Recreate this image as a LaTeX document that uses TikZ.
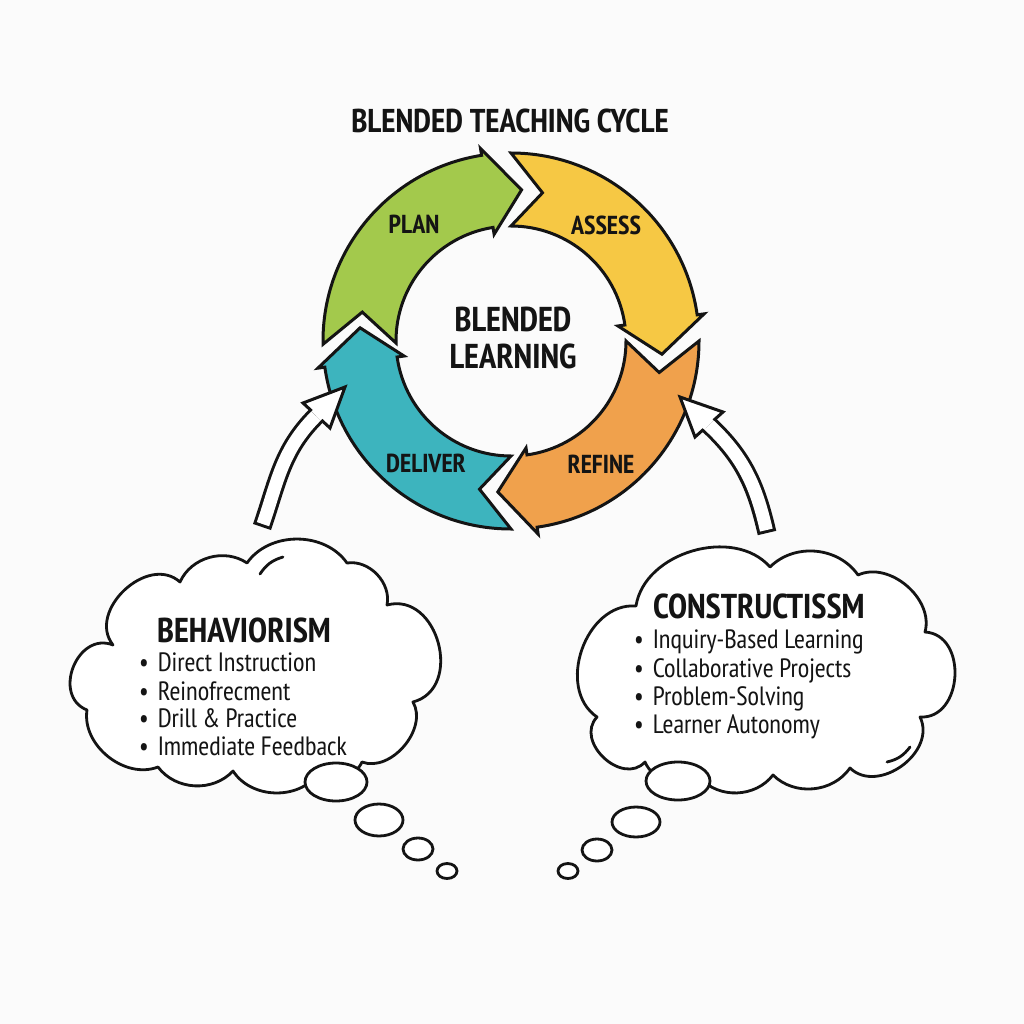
\documentclass[tikz,border=0pt]{standalone}
\usepackage{fontspec}
\IfFontExistsTF{PT Sans Narrow}{\newfontfamily\condfont{PT Sans Narrow}}{\newfontfamily\condfont{DejaVu Sans Condensed}}
\usetikzlibrary{calc}
\definecolor{cgreen}{HTML}{A3C94C}
\definecolor{cyellow}{HTML}{F6C844}
\definecolor{corange}{HTML}{F0A14C}
\definecolor{cteal}{HTML}{3DB4BE}
\definecolor{ink}{HTML}{141414}
\definecolor{bgcol}{HTML}{FBFBFB}
\newcommand\ringseg[3]{%
  \pgfmathsetmacro\hA{#3}%
  \pgfmathsetmacro\hT{#3-13}%
  \pgfmathsetmacro\nT{#2-12}%
  \filldraw[fill=#1,segline] (#2:188) arc[start angle=#2,end angle=#3,radius=188]
    -- (\hA:195) -- (\hT:151.5) -- (\hA:108) -- (\hA:115)
    arc[start angle=#3,end angle=#2,radius=115] -- (\nT:151.5) -- cycle;}
\newcommand\bul{\textbullet\hspace{9pt}}
\begin{document}
\begin{tikzpicture}[x=1pt,y=1pt,
  segline/.style={draw=ink,line width=3pt,line join=miter,miter limit=10},
  seglabel/.style={font=\condfont\bfseries\fontsize{26}{30}\selectfont,text=ink,inner sep=0pt},
  titletext/.style={font=\condfont\bfseries\fontsize{33}{38}\selectfont,text=ink,inner sep=0pt},
  centertext/.style={font=\condfont\bfseries\fontsize{34.5}{37}\selectfont,text=ink,align=center,inner sep=0pt},
  cloudtitle/.style={font=\condfont\bfseries\fontsize{34.5}{40}\selectfont,text=ink,inner sep=0pt,anchor=base west},
  listtext/.style={font=\condfont\fontsize{26.5}{30}\selectfont,text=ink,inner sep=0pt,anchor=base west},
  cloudline/.style={draw=ink,fill=white,line width=2.8pt,line join=round},
  hollow/.style={draw=ink,line width=19pt},
  hollowin/.style={draw=white,line width=13pt},
  headtri/.style={draw=ink,fill=white,line width=3pt,line join=miter}]
\useasboundingbox (0,0) rectangle (1024,-1024);
\fill[bgcol] (0,0) rectangle (1024,-1024);

% title
\node[titletext] (title) at (510,-121) {BLENDED TEACHING CYCLE};

% ring
\begin{scope}[shift={(511,-341)}]
  \ringseg{cgreen}{181}{99}
  \ringseg{cyellow}{90}{8}
  \ringseg{corange}{0}{-82}
  \ringseg{cteal}{-90}{-172}
\end{scope}
\node[seglabel] (plan) at (414,-224) {PLAN};
\node[seglabel] (assess) at (606,-225) {ASSESS};
\node[seglabel] (refine) at (601,-464) {REFINE};
\node[seglabel] (deliver) at (426,-463) {DELIVER};
\node[centertext] (center) at (513,-338) {BLENDED\\LEARNING};

% hollow arrows
\coordinate (la0) at (262,-527);
\coordinate (la1) at (316,-416);
\draw[hollow] (la0) to[out=71,in=225] (la1);
\filldraw[headtri] (303,-403) -- (345,-387) -- (330,-428) -- cycle;
\draw[hollowin,shorten <=3pt] (la0) to[out=71,in=225] (la1);
\draw[hollowin] (la1) -- ++(45:8);

\coordinate (ra0) at (767,-533);
\coordinate (ra1) at (709,-425);
\draw[hollow] (ra0) to[out=103,in=-43] (ra1);
\filldraw[headtri] (723,-412) -- (680,-397) -- (695,-437) -- cycle;
\draw[hollowin,shorten <=3pt] (ra0) to[out=103,in=-43] (ra1);
\draw[hollowin] (ra1) -- ++(137:8);

% left cloud
\filldraw[cloudline] (180,-582) to[bend left=50] (247,-563) to[bend left=55] (347,-563)
  to[bend left=55] (387,-605) to[bend left=90,looseness=1.35] (413,-702)
  to[bend left=70] (362,-762) to[bend left=50] (318,-774) to[bend left=55] (233,-771)
  to[bend left=50] (158,-767) to[bend left=60] (87,-710)
  to[bend left=90,looseness=1.4] (113,-645) to[bend left=85,looseness=1.2] (180,-582) -- cycle;
\draw[ink,line width=2.8pt,line cap=round] (260,-574) to[bend left=20] (283,-557);
\draw[cloudline] (336,-782) ellipse[x radius=31,y radius=19];
\draw[cloudline] (379,-820) ellipse[x radius=24,y radius=16];
\draw[cloudline] (418,-849) ellipse[x radius=15,y radius=11];
\draw[cloudline] (447,-871) ellipse[x radius=10,y radius=7.5];
\node[cloudtitle] (beh) at (157,-642) {BEHAVIORISM};
\node[listtext] (b1) at (139,-671) {\bul Direct Instruction};
\node[listtext] (b2) at (139,-700) {\bul Reinofrecment};
\node[listtext] (b3) at (139,-727) {\bul Drill \& Practice};
\node[listtext] (b4) at (139,-755) {\bul Immediate Feedback};

% right cloud
\filldraw[cloudline] (636,-606) to[bend left=65] (770,-567) to[bend left=50] (858,-575)
  to[bend left=65] (925,-632) to[bend left=90,looseness=1.3] (920,-717)
  to[bend left=80,looseness=1.15] (850,-768) to[bend left=50] (773,-775)
  to[bend left=50] (700,-778) to[bend left=50] (645,-762)
  to[bend left=90,looseness=1.3] (597,-717) to[bend left=75,looseness=1.1] (636,-606) -- cycle;
\draw[ink,line width=2.8pt,line cap=round] (887,-762) to[bend right=20] (910,-747);
\draw[cloudline] (678,-781) ellipse[x radius=32,y radius=19];
\draw[cloudline] (636,-822) ellipse[x radius=24,y radius=15];
\draw[cloudline] (597,-850) ellipse[x radius=15,y radius=11];
\draw[cloudline] (568,-871) ellipse[x radius=10,y radius=7.5];
\node[cloudtitle] (con) at (653,-618) {CONSTRUCTISSM};
\node[listtext] (c1) at (634,-648) {\bul Inquiry-Based Learning};
\node[listtext] (c2) at (634,-677) {\bul Collaborative Projects};
\node[listtext] (c3) at (634,-705) {\bul Problem-Solving};
\node[listtext] (c4) at (634,-733) {\bul Learner Autonomy};
\end{tikzpicture}
\end{document}
